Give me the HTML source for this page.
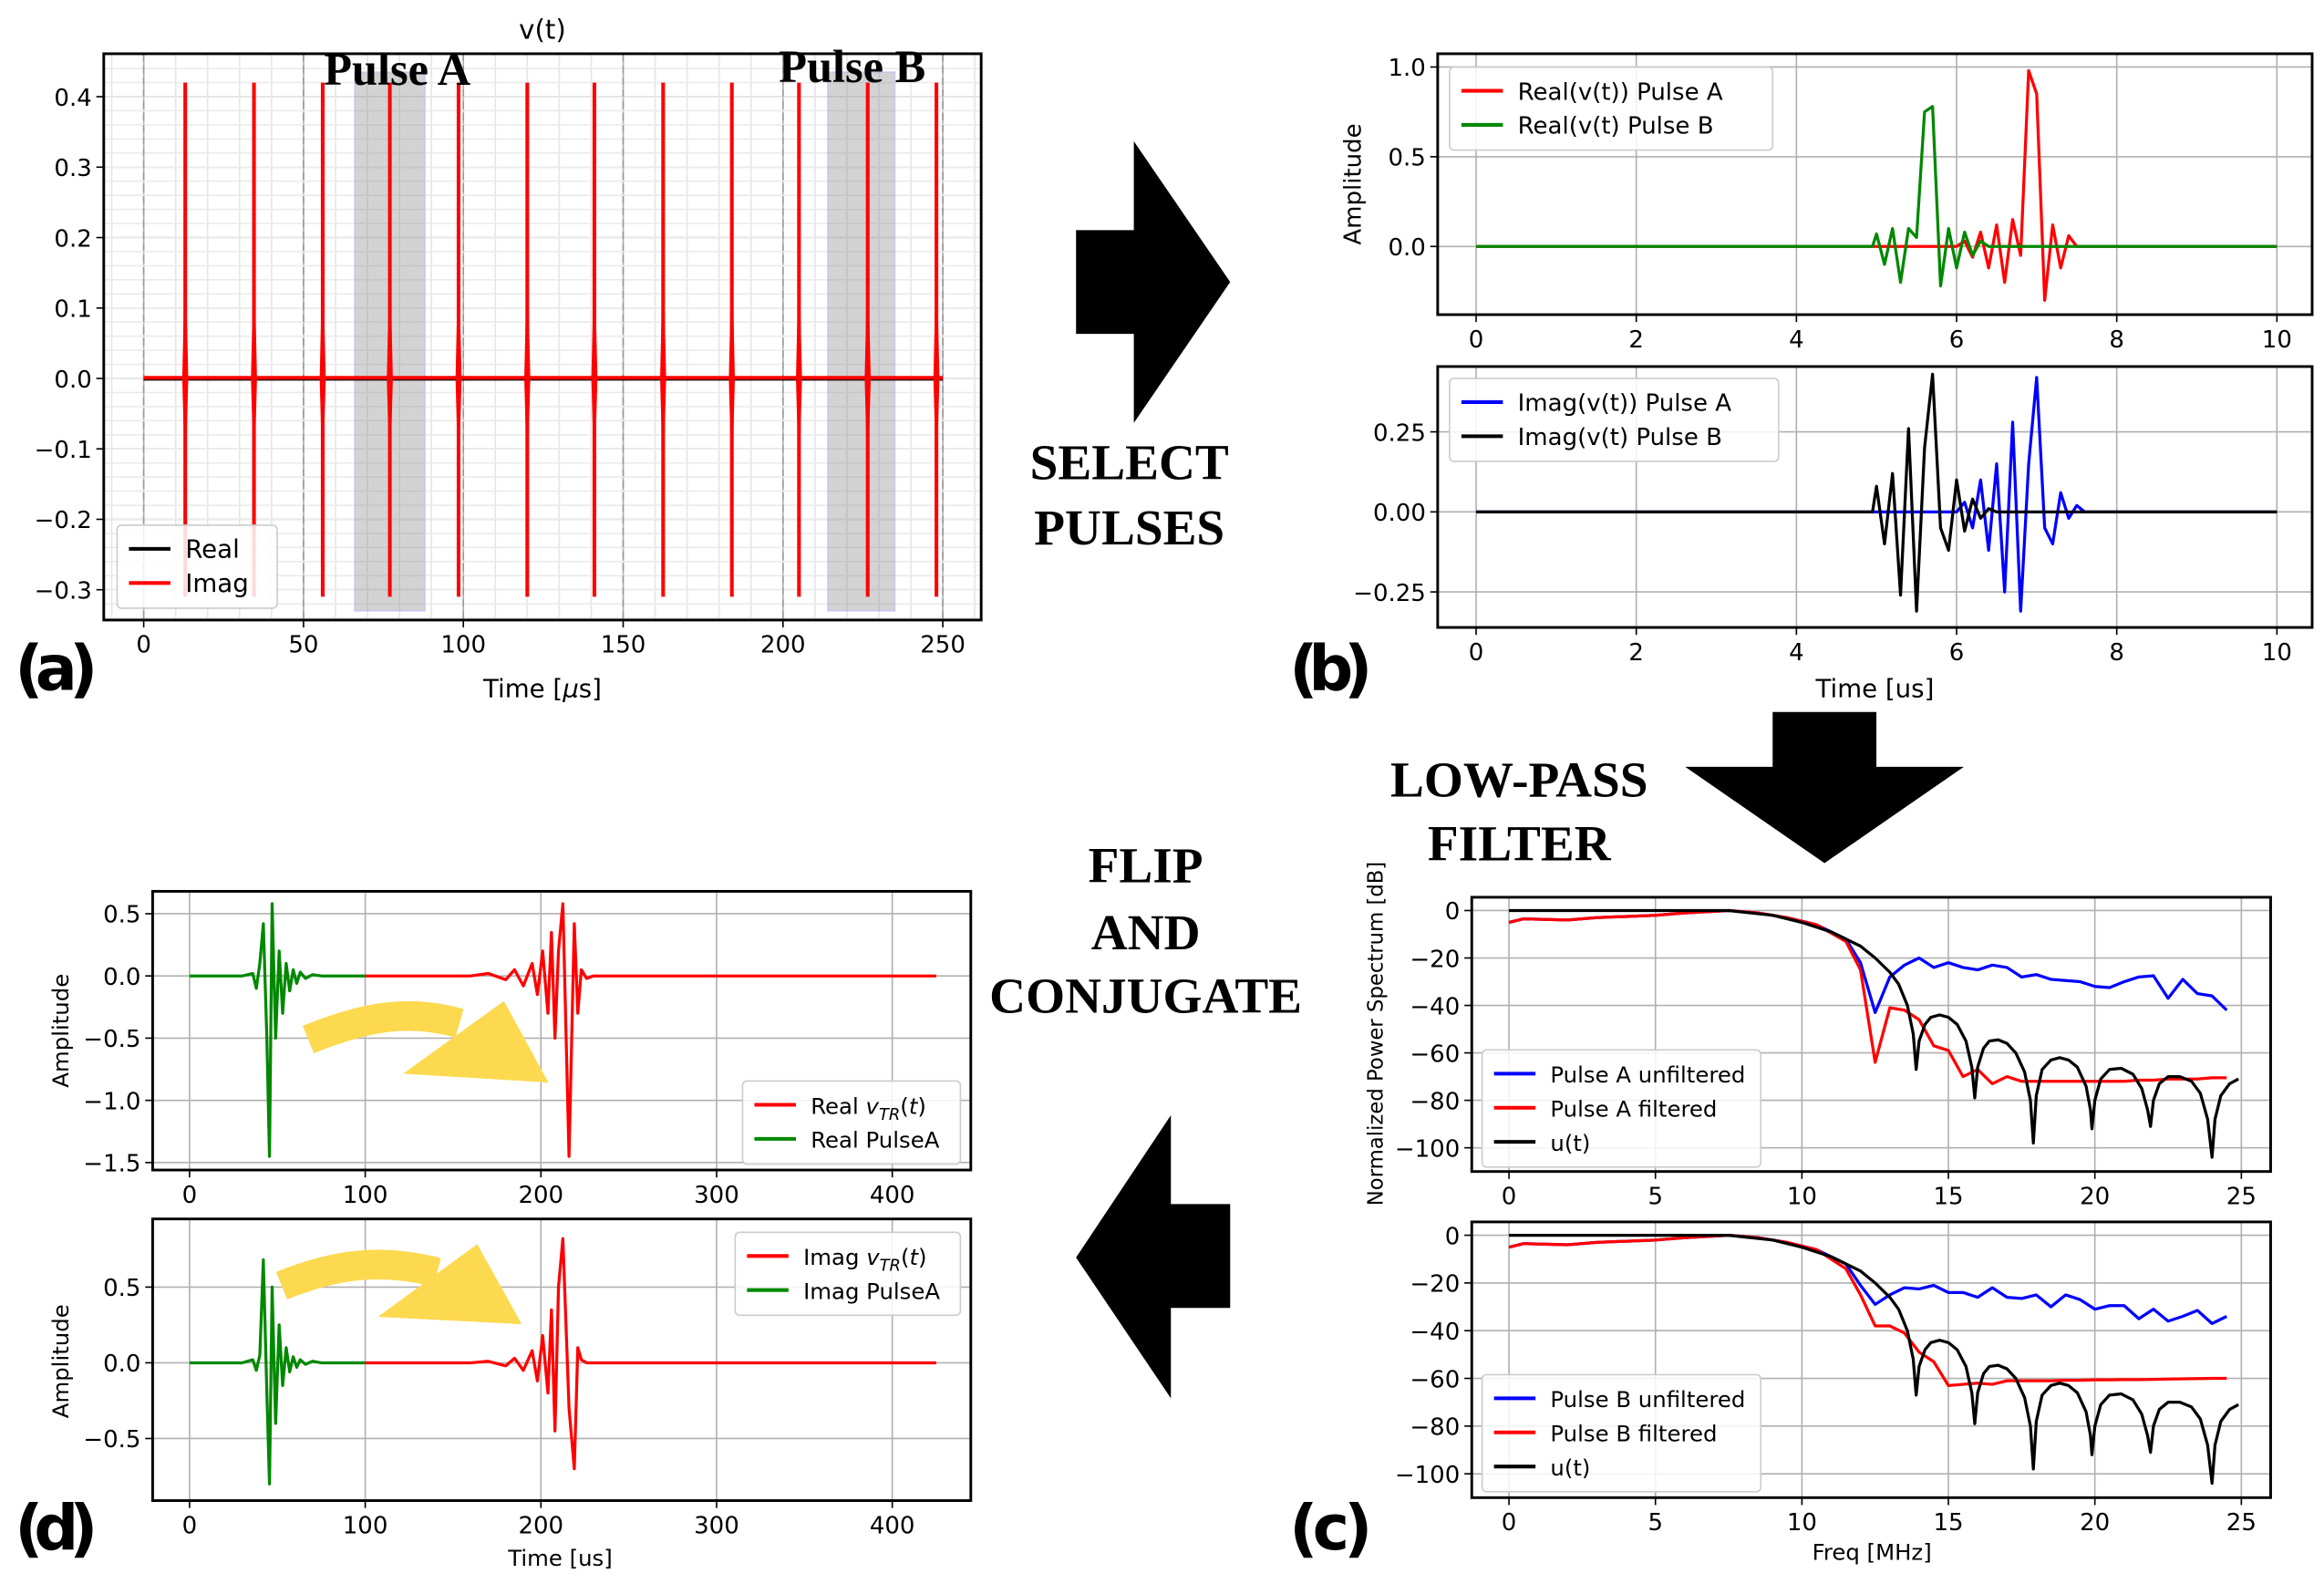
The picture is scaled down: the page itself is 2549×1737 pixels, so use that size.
<!DOCTYPE html>
<html><head><meta charset="utf-8">
<style>
html,body{margin:0;padding:0;background:#fff;}
svg{display:block;}
text{font-family:"DejaVu Sans","Liberation Sans",sans-serif;}
svg text.serif, .serif text{font-family:"Liberation Serif","DejaVu Serif",serif;font-weight:bold;}
</style></head>
<body>
<svg id="fig" xmlns="http://www.w3.org/2000/svg" width="2549" height="1737" viewBox="0 0 1568 1068">
<rect x="0" y="0" width="1568" height="1068" fill="#fff"/>
<polygon points="726,155 765,155 765,95 830,190 765,285 765,225 726,225" fill="#000"/>
<polygon points="1196,480 1266,480 1266,517 1325,517 1231,582 1137,517 1196,517" fill="#000"/>
<polygon points="830,812 830,882 790,882 790,943 726,848 790,752 790,812" fill="#000"/>
<g class="serif" font-size="34" text-anchor="middle" fill="#000">
<text x="762" y="323">SELECT</text>
<text x="762" y="367">PULSES</text>
<text x="1025" y="537">LOW-PASS</text>
<text x="1025" y="580">FILTER</text>
<text x="773" y="595">FLIP</text>
<text x="773" y="640">AND</text>
<text x="773" y="683">CONJUGATE</text>
</g>
<g font-size="42" font-weight="bold" fill="#000">
<text x="10" y="465" textLength="56">(a)</text>
<text x="870" y="465" textLength="56">(b)</text>
<text x="870" y="1045" textLength="56">(c)</text>
<text x="10" y="1045" textLength="56">(d)</text>
</g>
<g id="plots"></g>
</svg>
<script>
// panel a
const aPulseTimes=[13,34.5,56,77,98.5,120,141,162.5,184,205,226.5,248];
const aPulseMax=[0.42,0.42,0.42,0.42,0.42,0.42,0.42,0.42,0.42,0.42,0.42,0.42];
const aPulseMin=[-0.31,-0.31,-0.31,-0.31,-0.31,-0.31,-0.31,-0.31,-0.31,-0.31,-0.31,-0.31];
const aSpans=[[66,88],[214,235]];
const aXTicks=[0,50,100,150,200,250];
const aYTicks=[0.4,0.3,0.2,0.1,0.0,-0.1,-0.2,-0.3];
// panel b
const bT=[0,4.95,5.0,5.1,5.2,5.3,5.4,5.5,5.6,5.7,5.8,5.9,6.0,6.1,6.2,6.3,6.4,6.5,6.6,6.7,6.8,6.9,7.0,7.1,7.2,7.3,7.4,7.5,7.6,10];
const bRealA=[0,0,0,0,0,0,0,0,0,0,0,0,0,0.03,-0.06,0.08,-0.12,0.12,-0.2,0.15,-0.05,0.98,0.85,-0.3,0.12,-0.12,0.06,0,0,0];
const bRealB=[0,0,0.07,-0.1,0.1,-0.2,0.1,0.05,0.75,0.78,-0.22,0.1,-0.12,0.08,-0.05,0.03,0,0,0,0,0,0,0,0,0,0,0,0,0,0];
const bImagA=[0,0,0,0,0,0,0,0,0,0,0,0,0,0.03,-0.05,0.1,-0.12,0.15,-0.25,0.28,-0.31,0.15,0.42,-0.05,-0.1,0.06,-0.02,0.02,0,0];
const bImagB=[0,0,0.08,-0.1,0.12,-0.26,0.26,-0.31,0.2,0.43,-0.05,-0.12,0.1,-0.06,0.04,-0.02,0.01,0,0,0,0,0,0,0,0,0,0,0,0,0];
const bXTicks=[0,2,4,6,8,10];
const bTopYTicks=[1.0,0.5,0.0];
const bBotYTicks=[0.25,0.00,-0.25];
// panel c
const cF=[0,0.5,2,3,5,6,7.5,8.5,9.5,10.5,11.5,12,12.5,13,13.5,14,14.5,15,15.5,16,16.5,17,17.5,18,18.5,19,19.5,20,20.5,21,21.5,22,22.5,23,23.5,24,24.5];
const cBlueA=[-5,-3.5,-4,-3,-2,-1,0,-1,-3,-6,-12,-22,-43,-28,-23,-20,-24,-22,-24,-25,-23,-24,-28,-27,-29,-29.5,-30,-32,-32.5,-30,-28,-27.5,-37,-29,-35,-36,-42];
const cRedA=[-5,-3.5,-4,-3,-2,-1,0,-1,-3,-6,-13,-25,-64,-41,-42,-46,-57,-59,-70,-67,-73,-70,-72,-72,-72,-72,-72,-72,-72,-72,-71.5,-71.5,-71,-71,-71,-70.5,-70.5];
const cBlueB=[-5,-3.5,-4,-3,-2,-1,0,-1,-3,-6,-12,-21,-29,-25,-22,-22.5,-21,-24,-24,-26,-22,-26,-26.5,-25,-30,-25,-27,-31,-29.5,-29.5,-35,-31,-36,-34,-31.5,-37,-34];
const cRedB=[-5,-3.5,-4,-3,-2,-1,0,-1,-3,-6,-14,-25,-38,-38,-41,-49,-53,-63,-62.5,-62,-62.5,-61,-61,-61,-61,-60.8,-60.8,-60.6,-60.6,-60.5,-60.5,-60.4,-60.3,-60.2,-60.1,-60,-60];
const uF=[0,5,7.5,9,10,11,12,12.5,13,13.3,13.6,13.8,13.9,14.0,14.2,14.4,14.7,15.0,15.3,15.6,15.8,15.9,16.0,16.2,16.4,16.7,17.0,17.3,17.6,17.8,17.9,18.0,18.2,18.5,18.8,19.1,19.4,19.7,19.85,19.9,20.0,20.2,20.5,20.9,21.3,21.6,21.8,21.9,22.0,22.2,22.5,22.9,23.3,23.6,23.85,24.0,24.1,24.3,24.6,24.9];
const uDb=[0,0,0,-2,-5,-9,-15,-20,-26,-31,-40,-52,-67,-55,-48,-45,-44,-45,-48,-55,-66,-79,-66,-58,-55,-54.5,-56,-60,-68,-80,-98,-78,-67,-63,-62,-63,-66,-74,-84,-92,-80,-71,-67,-66.5,-69,-75,-84,-91,-80,-73,-70,-70,-72,-77,-88,-104,-88,-78,-73,-71];
const cXTicks=[0,5,10,15,20,25];
const cYTicks=[0,-20,-40,-60,-80,-100];
// panel d
const dT=[0,30,36,38,40,42,44,45.5,47,49,51,53,55,57,59,61,63,66,70,75,100];
const dRealGreen=[0,0,0.02,-0.1,0.1,0.42,-0.5,-1.45,0.58,-0.5,0.2,-0.3,0.1,-0.12,0.05,-0.06,0.03,-0.02,0.01,0,0];
const dImagGreen=[0,0,0.02,-0.05,0.05,0.68,-0.2,-0.8,0.5,-0.4,0.25,-0.15,0.1,-0.06,0.04,-0.03,0.02,-0.01,0.01,0,0];
const dT2=[100,160,170,180,185,190,195,198,201,204,206,208,210,212.5,216,219,221,223,226,230,425];
const dRealRed=[0,0,0.02,-0.03,0.05,-0.08,0.1,-0.15,0.2,-0.3,0.35,-0.5,0.2,0.58,-1.45,0.42,-0.3,0.05,-0.02,0,0];
const dImagRed=[0,0,0.01,-0.02,0.03,-0.05,0.08,-0.12,0.18,-0.2,0.35,-0.45,0.5,0.82,-0.3,-0.7,0.1,0.02,0,0,0];
const dXTicks=[0,100,200,300,400];
const dTopYTicks=[0.5,0.0,-0.5,-1.0,-1.5];
const dBotYTicks=[0.5,0.0,-0.5];

const NS='http://www.w3.org/2000/svg';
const root=document.getElementById('plots');
function mk(tag,attrs,parent){const e=document.createElementNS(NS,tag);for(const k in attrs)e.setAttribute(k,attrs[k]);(parent||root).appendChild(e);return e;}
function fmt(v,d){const s=v.toFixed(d);return s.startsWith('-')?'\u2212'+s.slice(1):s;}
function axes(name,x0,y0,x1,y1,xmin,xmax,ymin,ymax,xt,yt,xd,yd,showX){
  const g=mk('g',{});
  
  
  const X=v=>x0+(v-xmin)/(xmax-xmin)*(x1-x0);
  const Y=v=>y1-(v-ymin)/(ymax-ymin)*(y1-y0);
  for(const t of xt){const l=mk('line',{x1:X(t),x2:X(t),y1:y0,y2:y1,stroke:'#b0b0b0','stroke-width':1},g);
    
    
    mk('line',{x1:X(t),x2:X(t),y1:y1,y2:y1+5,stroke:'#000'},g);
    if(showX){const tx=mk('text',{x:X(t),y:y1+22,'font-size':16,'text-anchor':'middle'},g);tx.textContent=fmt(t,xd);
    
    }}
  for(const t of yt){const l=mk('line',{x1:x0,x2:x1,y1:Y(t),y2:Y(t),stroke:'#b0b0b0','stroke-width':1},g);
    
    
    mk('line',{x1:x0-5,x2:x0,y1:Y(t),y2:Y(t),stroke:'#000'},g);
    const tx=mk('text',{x:x0-8,y:Y(t)+6,'font-size':16,'text-anchor':'end'},g);tx.textContent=fmt(t,yd);
    
    }
  return {g,X,Y,frame:()=>{const r=mk('rect',{x:x0,y:y0,width:x1-x0,height:y1-y0,fill:'none',stroke:'#000','stroke-width':1.8},g);
    
    }};
}
function line(ax,xs,ys,color,name,w){
  const p=mk('polyline',{points:xs.map((x,i)=>ax.X(x)+','+ax.Y(ys[i])).join(' '),fill:'none',stroke:color,'stroke-width':w||2,'stroke-linejoin':'round'},ax.g);
  
  
}
function legend(name,x,y,w,entries,fs){
  const g=mk('g',{});
  
  
  const h=entries.length*23+10;
  mk('rect',{x:x,y:y,width:w,height:h,rx:3,fill:'#fff','fill-opacity':0.85,stroke:'#ccc'},g);
  entries.forEach((e,i)=>{const cy=y+16+i*23;
    mk('line',{x1:x+8,x2:x+36,y1:cy,y2:cy,stroke:e[1],'stroke-width':2.5},g);
    const t=mk('text',{x:x+46,y:cy+6,'font-size':fs||16},g);t.innerHTML=e[0];
    
    });
}
function label(txt,x,y,size,rot,name){
  const t=mk('text',{x:x,y:y,'font-size':size,'text-anchor':'middle',transform:rot?`rotate(-90 ${x} ${y})`:''});
  t.innerHTML=txt;
  
  
}

// panel a
const A=axes('panel-a-axes',70,36,662,418,-12.5,262,-0.343,0.461,aXTicks,aYTicks,0,1,true);
for(let v=-10;v<=260;v+=10){if(v%50){const l=mk('line',{x1:A.X(v),x2:A.X(v),y1:36,y2:418,stroke:'#e6e6e6'},A.g);}}
for(let v=-0.34;v<=0.46;v+=0.02){const l=mk('line',{x1:70,x2:662,y1:A.Y(v),y2:A.Y(v),stroke:'#ebebeb'},A.g);}
for(const t of aXTicks){mk('line',{x1:A.X(t),x2:A.X(t),y1:36,y2:418,stroke:'#999','stroke-dasharray':'5,3'},A.g);}
aSpans.forEach(s=>{const r=mk('rect',{x:A.X(s[0]),y:A.Y(0.435),width:A.X(s[1])-A.X(s[0]),height:A.Y(-0.33)-A.Y(0.435),fill:'#808080','fill-opacity':0.35,stroke:'#b8b8ff','stroke-opacity':0.6},A.g);
  
  });
line(A,[0,250],[-0.002,-0.002],'#000','real-series',1);
line(A,[0,250],[0.001,0.001],'#f00','imag-series',2.5);
aPulseTimes.forEach((t,i)=>{line(A,[t,t],[aPulseMin[i],aPulseMax[i]],'#f00','pulse-spike',2.5);
  line(A,[t-0.6,t,t+0.6],[0,0.12,0],'#f00','pulse-body',1.5);
  line(A,[t-0.6,t,t+0.6],[0,-0.1,0],'#f00','pulse-body',1.5);});
A.frame();
label('v(t)',366,26,18,false,'panel-a-title');
label('Time [<tspan font-style="italic">μ</tspan>s]',366,470,17,false,'panel-a-x-title');
{const t=mk('text',{x:268,y:57,'font-size':31,'text-anchor':'middle',class:'serif'});t.textContent='Pulse A';}
{const t=mk('text',{x:575,y:55,'font-size':31,'text-anchor':'middle',class:'serif'});t.textContent='Pulse B';}
legend('panel-a-legend',79,354,108,[['Real','#000'],['Imag','#f00']],17);

// panel b
const B1=axes('panel-b-top-axes',970,36,1560,212,-0.48,10.44,-0.38,1.074,bXTicks,bTopYTicks,0,1,true);
line(B1,bT,bRealA,'#f00','real-pulse-a',2);
line(B1,bT,bRealB,'#080','real-pulse-b',2);
B1.frame();
legend('panel-b-top-legend',978,45,218,[['Real(v(t)) Pulse A','#f00'],['Real(v(t) Pulse B','#080']]);
label('Amplitude',918,124,16,true,'panel-b-y-title');
const B2=axes('panel-b-bottom-axes',970,247,1560,423,-0.48,10.44,-0.361,0.454,bXTicks,bBotYTicks,0,2,true);
line(B2,bT,bImagA,'#00f','imag-pulse-a',2);
line(B2,bT,bImagB,'#000','imag-pulse-b',2);
B2.frame();
legend('panel-b-bottom-legend',978,255,222,[['Imag(v(t)) Pulse A','#00f'],['Imag(v(t) Pulse B','#000']]);
label('Time [us]',1265,470,17,false,'panel-b-x-title');

// panel c
const C1=axes('panel-c-top-axes',993,605,1532,790,-1.27,26.0,-110,5.6,cXTicks,cYTicks,0,0,true);
line(C1,cF,cBlueA,'#00f','pulse-a-unfiltered',2);
line(C1,cF,cRedA,'#f00','pulse-a-filtered',2);
line(C1,uF,uDb,'#000','u-top',2);
C1.frame();
legend('panel-c-top-legend',1000,708,188,[['Pulse A unfiltered','#00f'],['Pulse A filtered','#f00'],['u(t)','#000']],15);
const C2=axes('panel-c-bottom-axes',993,824,1532,1010,-1.27,26.0,-110,5.6,cXTicks,cYTicks,0,0,true);
line(C2,cF,cBlueB,'#00f','pulse-b-unfiltered',2);
line(C2,cF,cRedB,'#f00','pulse-b-filtered',2);
line(C2,uF,uDb,'#000','u-bottom',2);
C2.frame();
legend('panel-c-bottom-legend',1000,927,188,[['Pulse B unfiltered','#00f'],['Pulse B filtered','#f00'],['u(t)','#000']],15);
label('Normalized Power Spectrum [dB]',933,697,14,true,'panel-c-y-title');
label('Freq [MHz]',1263,1052,15,false,'panel-c-x-title');

// panel d
function yellowArrow(name,pts,tip){
  const g=mk('g',{});
  
  
  mk('path',{d:pts,fill:'none',stroke:'#fdd94f','stroke-width':20},g);
  mk('polygon',{points:tip,fill:'#fdd94f'},g);
}
const D1=axes('panel-d-top-axes',103,601,655,789,-21,444.7,-1.56,0.68,dXTicks,dTopYTicks,0,1,true);
line(D1,dT2,dRealRed,'#f00','real-vtr',2);
line(D1,dT,dRealGreen,'#080','real-pulse-a-d',2);
D1.frame();
yellowArrow('flip-arrow-top','M208,701 C245,686 275,680 310,690','272,724 340,675 370,730');
legend('panel-d-top-legend',501,729,147,[['Real <tspan font-style="italic">v</tspan><tspan font-size="11" dy="4" font-style="italic">TR</tspan><tspan dy="-4">(</tspan><tspan font-style="italic">t</tspan>)','#f00'],['Real PulseA','#080']],15);
label('Amplitude',46,695,15,true,'panel-d-top-y-title');
const D2=axes('panel-d-bottom-axes',103,822,655,1012,-21,444.7,-0.91,0.95,dXTicks,dBotYTicks,0,1,true);
line(D2,dT2,dImagRed,'#f00','imag-vtr',2);
line(D2,dT,dImagGreen,'#080','imag-pulse-a-d',2);
D2.frame();
yellowArrow('flip-arrow-bottom','M190,867 C225,853 255,848 295,858','255,888 322,839 352,893');
legend('panel-d-bottom-legend',496,831,152,[['Imag <tspan font-style="italic">v</tspan><tspan font-size="11" dy="4" font-style="italic">TR</tspan><tspan dy="-4">(</tspan><tspan font-style="italic">t</tspan>)','#f00'],['Imag PulseA','#080']],15);
label('Amplitude',46,918,15,true,'panel-d-bottom-y-title');
label('Time [us]',378,1056,15,false,'panel-d-x-title');
</script>
</body></html>
